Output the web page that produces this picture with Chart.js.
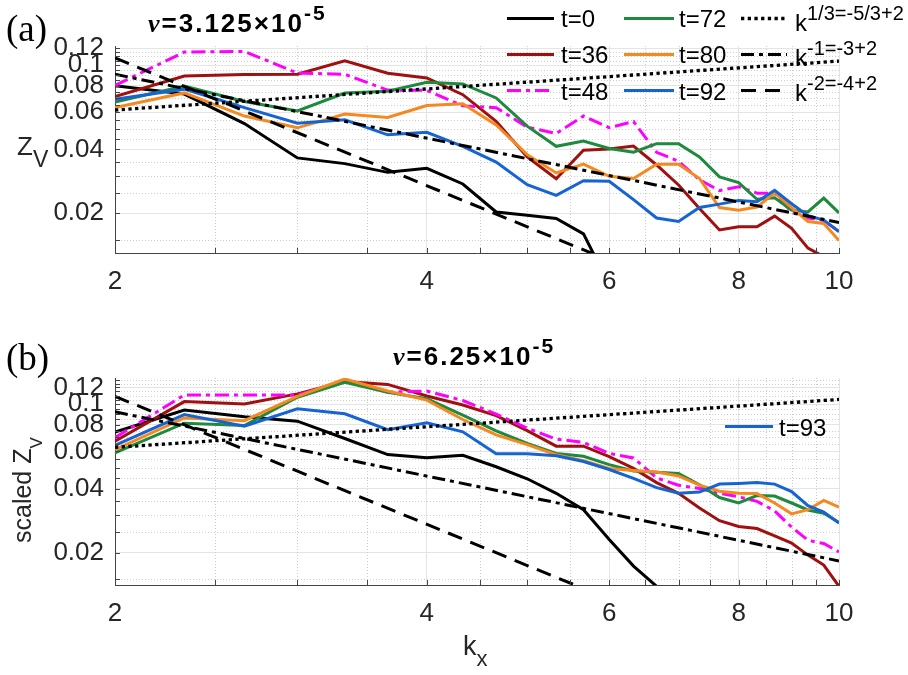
<!DOCTYPE html>
<html>
<head>
<meta charset="utf-8">
<script src="https://cdn.jsdelivr.net/npm/chart.js@4.4.1/dist/chart.umd.min.js"></script>
<style>
  body { margin: 0; background: #fff; }
  #wrap { position: relative; width: 908px; height: 675px; overflow: hidden; font-family: 'Liberation Sans', Arial, sans-serif; color: #262626; }
  #wrap canvas { position: absolute; left: 0; }
  .t { position: absolute; white-space: nowrap; line-height: 1; }
  .panel { font-family: 'Liberation Serif', 'Times New Roman', serif; font-size: 37px; color: #000; }
  .title { font-size: 26px; font-weight: bold; color: #000; letter-spacing: 2px; }
  .title .nu { font-family: 'Liberation Serif', serif; font-style: italic; }
  .title .sup { font-size: 21px; position: relative; top: -12px; }
  .leg { font-size: 24px; color: #000; }
  .leg .sup { font-size: 20px; position: relative; top: -11px; }
  .swatch { position: absolute; }
  .lab { font-size: 26px; }
</style>
</head>
<body>
<div id="wrap">
  <canvas id="chartA" width="908" height="330" style="top:0"></canvas>
  <canvas id="chartB" width="908" height="345" style="top:330px"></canvas>

  <!-- panel tags and titles -->
  <div class="t panel" style="left:6px; top:10px">(a)</div>
  <div class="t panel" style="left:6px; top:339px">(b)</div>
  <div class="t title" style="left:148px; top:9.5px"><span class="nu">ν</span>=3.125×10<span class="sup">-5</span></div>
  <div class="t title" style="left:393px; top:343px"><span class="nu">ν</span>=6.25×10<span class="sup">-5</span></div>

  <!-- axis labels -->
  <div class="t lab" style="left:17px; top:133px">Z<span style="font-size:23px; position:relative; top:12px">V</span></div>
  <div class="t lab" style="left:10px; top:543px; font-size:25px; transform:rotate(-90deg); transform-origin:left top">scaled Z<span style="font-size:17px; position:relative; top:11px">V</span></div>
  <div class="t lab" style="left:463px; top:633px; font-size:27px">k<span style="font-size:22px; position:relative; top:11px">x</span></div>

  <!-- legend, panel (a) -->
  <svg class="swatch" style="left:507px; top:15px" width="47" height="7"><line x1="0" y1="3.5" x2="47" y2="3.5" stroke="#000000" stroke-width="3"/></svg>
  <div class="t leg" style="left:561px; top:7px">t=0</div>
  <svg class="swatch" style="left:507px; top:51px" width="47" height="7"><line x1="0" y1="3.5" x2="47" y2="3.5" stroke="#a0100f" stroke-width="3"/></svg>
  <div class="t leg" style="left:561px; top:43px">t=36</div>
  <svg class="swatch" style="left:507px; top:87px" width="47" height="7"><line x1="0" y1="3.5" x2="47" y2="3.5" stroke="#ff00ff" stroke-width="3" stroke-dasharray="14 5 4 5"/></svg>
  <div class="t leg" style="left:561px; top:80px">t=48</div>

  <svg class="swatch" style="left:624px; top:15px" width="50" height="7"><line x1="0" y1="3.5" x2="50" y2="3.5" stroke="#1e8a3e" stroke-width="3"/></svg>
  <div class="t leg" style="left:679px; top:7px">t=72</div>
  <svg class="swatch" style="left:624px; top:51px" width="50" height="7"><line x1="0" y1="3.5" x2="50" y2="3.5" stroke="#f5891f" stroke-width="3"/></svg>
  <div class="t leg" style="left:679px; top:43px">t=80</div>
  <svg class="swatch" style="left:624px; top:87px" width="50" height="7"><line x1="0" y1="3.5" x2="50" y2="3.5" stroke="#1664d4" stroke-width="3"/></svg>
  <div class="t leg" style="left:679px; top:80px">t=92</div>

  <svg class="swatch" style="left:741px; top:15px" width="46" height="7"><line x1="0" y1="3.5" x2="46" y2="3.5" stroke="#000" stroke-width="3.3" stroke-dasharray="3.3 3.4"/></svg>
  <div class="t leg" style="left:795px; top:11px">k<span class="sup">1/3=-5/3+2</span></div>
  <svg class="swatch" style="left:741px; top:51px" width="46" height="7"><line x1="0" y1="3.5" x2="46" y2="3.5" stroke="#000" stroke-width="3" stroke-dasharray="13 5 4 5"/></svg>
  <div class="t leg" style="left:795px; top:46px">k<span class="sup">-1=-3+2</span></div>
  <svg class="swatch" style="left:741px; top:87px" width="46" height="7"><line x1="0" y1="3.5" x2="46" y2="3.5" stroke="#000" stroke-width="3" stroke-dasharray="15 9"/></svg>
  <div class="t leg" style="left:795px; top:81px">k<span class="sup">-2=-4+2</span></div>

  <!-- legend, panel (b) -->
  <svg class="swatch" style="left:725px; top:423px" width="48" height="7"><line x1="0" y1="3.5" x2="48" y2="3.5" stroke="#1664d4" stroke-width="3"/></svg>
  <div class="t leg" style="left:779px; top:416px">t=93</div>
</div>

<script>
// wavenumbers shared by every spectrum
const kx = [2, 2.3333, 2.6667, 3, 3.3333, 3.6667, 4, 4.3333, 4.6667, 5, 5.3333, 5.6667, 6,
            6.3333, 6.6667, 7, 7.3333, 7.6667, 8, 8.3333, 8.6667, 9, 9.3333, 9.6667, 10];

// (a) nu = 3.125e-5
const a_t0  = [0.080, 0.073, 0.053, 0.0365, 0.0343, 0.0312, 0.0326, 0.0275, 0.0203, 0.0196, 0.0189, 0.0160, 0.0092,
               null, null, null, null, null, null, null, null, null, null, null, null];
const a_t36 = [0.071, 0.0887, 0.0903, 0.0906, 0.1047, 0.0916, 0.087, 0.0725, 0.0543, 0.0369, 0.0291, 0.0397, 0.0402,
               0.0415, 0.0338, 0.0272, 0.0211, 0.0167, 0.0173, 0.0173, 0.0194, 0.0170, 0.0137, 0.0125, null];
const a_t48 = [0.0802, 0.1152, 0.116, 0.0917, 0.0905, 0.0762, 0.076, 0.0642, 0.063, 0.051, 0.0476, 0.0575, 0.0507,
               0.0542, 0.0388, 0.0352, 0.0288, 0.0256, 0.0267, 0.0249, 0.0248, 0.0203, 0.019, 0.0185, 0.0164];
const a_t72 = [0.067, 0.0797, 0.0674, 0.0608, 0.0738, 0.0752, 0.083, 0.0815, 0.070, 0.0515, 0.0414, 0.0438, 0.0404,
               0.0388, 0.0426, 0.0426, 0.0369, 0.0297, 0.0279, 0.0233, 0.0237, 0.0207, 0.0203, 0.0236, 0.0201];
const a_t80 = [0.063, 0.0739, 0.0575, 0.0506, 0.0588, 0.0566, 0.0645, 0.0657, 0.0522, 0.0378, 0.031, 0.0341, 0.0299,
               0.0292, 0.0341, 0.0341, 0.0292, 0.0213, 0.0207, 0.0214, 0.025, 0.0213, 0.0183, 0.0179, 0.0149];
const a_t92 = [0.069, 0.077, 0.063, 0.0532, 0.0552, 0.0469, 0.0482, 0.0414, 0.0349, 0.0273, 0.0243, 0.0285, 0.0283,
               0.0232, 0.019, 0.0183, 0.0213, 0.0221, 0.023, 0.0227, 0.0257, 0.0222, 0.0195, 0.0186, 0.0164];

// (b) nu = 6.25e-5, scaled
const b_t0  = [0.074, 0.094, 0.0874, 0.0833, 0.069, 0.058, 0.056, 0.0575, 0.0508, 0.0446, 0.0381, 0.0319, 0.0231,
               0.0173, 0.0139, 0.011, null, null, null, null, null, null, null, null, null];
const b_t36 = [0.067, 0.103, 0.1003, 0.112, 0.128, 0.1241, 0.1095, 0.0992, 0.0885, 0.0752, 0.0635, 0.0635, 0.0567,
               0.0499, 0.0428, 0.0381, 0.0325, 0.0283, 0.0266, 0.026, 0.024, 0.0222, 0.0195, 0.0175, 0.0139];
const b_t48 = [0.0697, 0.1106, 0.1106, 0.1106, 0.1288, 0.1141, 0.1155, 0.1042, 0.09, 0.0772, 0.0686, 0.0661, 0.0587,
               0.0559, 0.045, 0.0416, 0.0401, 0.0381, 0.0367, 0.0349, 0.0315, 0.0264, 0.0229, 0.0221, 0.0202];
const b_t72 = [0.059, 0.0815, 0.0794, 0.108, 0.127, 0.1138, 0.1063, 0.089, 0.075, 0.0654, 0.0587, 0.0569, 0.052,
               0.0485, 0.0479, 0.0472, 0.0418, 0.0364, 0.0343, 0.0372, 0.037, 0.0343, 0.0318, 0.0307, 0.0278];
const b_t80 = [0.0612, 0.0863, 0.0837, 0.109, 0.1316, 0.1155, 0.1046, 0.0848, 0.0718, 0.0646, 0.0579, 0.0543, 0.0499,
               0.0488, 0.048, 0.046, 0.0416, 0.039, 0.0381, 0.038, 0.0343, 0.0305, 0.0319, 0.0353, 0.0328];
const b_t93 = [0.064, 0.0895, 0.0788, 0.0952, 0.0902, 0.0759, 0.0818, 0.0742, 0.0585, 0.0585, 0.0573, 0.0538, 0.0493,
               0.0448, 0.0405, 0.0381, 0.0386, 0.0421, 0.0424, 0.0428, 0.0421, 0.0388, 0.0333, 0.0311, 0.0276];

// power-law guides (straight on log-log, so two end points each)
const guideK      = [2, 10];
const guideSteepK = [2, 6];
const a_third = [0.0614, 0.1044];
const a_minus1 = [0.0905, 0.0181];
const a_minus2 = [0.108, 0.0120];
const b_third = [0.0627, 0.1054];
const b_minus1 = [0.0922, 0.0183];
const b_minus2 = [0.109, 0.0121];

// axes
const xTicksMajor = [2, 4, 6, 8, 10];
const xTicksAll = [2, 2.5, 3, 3.5, 4, 4.5, 5, 5.5, 6, 6.5, 7, 7.5, 8, 8.5, 9, 9.5, 10];
const yTicksMajor = [0.02, 0.04, 0.06, 0.08, 0.1, 0.12];
const yTicksMinor = [0.015, 0.025, 0.03, 0.035, 0.045, 0.05, 0.055, 0.065, 0.07, 0.075, 0.085, 0.09,
                     0.095, 0.105, 0.11, 0.115, 0.125, 0.13];

const FONT = "'Liberation Sans', Arial, sans-serif";

const colors = { t0: '#000000', t36: '#a0100f', t48: '#ff00ff', t72: '#1e8a3e', t80: '#f5891f', t92: '#1664d4' };

function curve(values, color, dash, order) {
  return {
    data: kx.map((k, i) => ({ x: k, y: values[i] })),
    borderColor: color, borderWidth: 3, borderDash: dash || [],
    pointRadius: 0, tension: 0, fill: false, order: order
  };
}

function guide(ks, values, dash, width, order) {
  return {
    data: ks.map((k, i) => ({ x: k, y: values[i] })),
    borderColor: '#000', borderWidth: width, borderDash: dash, borderCapStyle: 'butt',
    pointRadius: 0, tension: 0, fill: false, order: order
  };
}

// dotted minor grid and MATLAB-style inward tick marks
const minorGrid = {
  id: 'minorGrid',
  beforeDatasetsDraw(chart) {
    const { ctx, chartArea: a, scales: { x, y } } = chart;
    ctx.save();
    ctx.strokeStyle = '#cccccc';
    ctx.lineWidth = 1;
    ctx.setLineDash([1, 2]);
    yTicksMinor.forEach(v => {
      const py = Math.round(y.getPixelForValue(v)) + 0.5;
      if (py < a.top || py > a.bottom) return;
      ctx.beginPath(); ctx.moveTo(a.left, py); ctx.lineTo(a.right, py); ctx.stroke();
    });
    xTicksAll.filter(v => !xTicksMajor.includes(v)).forEach(v => {
      const px = Math.round(x.getPixelForValue(v)) + 0.5;
      ctx.beginPath(); ctx.moveTo(px, a.top); ctx.lineTo(px, a.bottom); ctx.stroke();
    });
    ctx.restore();
  },
  afterDatasetsDraw(chart) {
    const { ctx, chartArea: a, scales: { x, y } } = chart;
    ctx.save();
    ctx.strokeStyle = '#444';
    ctx.lineWidth = 1;
    yTicksMajor.concat(yTicksMinor).forEach(v => {
      const py = Math.round(y.getPixelForValue(v)) + 0.5;
      if (py < a.top || py > a.bottom) return;
      ctx.beginPath(); ctx.moveTo(a.left, py); ctx.lineTo(a.left + 5, py); ctx.stroke();
    });
    xTicksAll.forEach(v => {
      const px = Math.round(x.getPixelForValue(v)) + 0.5;
      ctx.beginPath(); ctx.moveTo(px, a.bottom); ctx.lineTo(px, a.bottom - 5); ctx.stroke();
    });
    ctx.restore();
  }
};

function drawPanel(id, datasets, yMin, yMax, padTop, xAxisHeight) {
  return new Chart(document.getElementById(id), {
    type: 'line',
    data: { datasets },
    options: {
      responsive: false,
      animation: false,
      devicePixelRatio: 1,
      layout: { padding: { left: 0, right: 69, top: padTop, bottom: 0 } },
      plugins: { legend: { display: false }, tooltip: { enabled: false } },
      scales: {
        x: {
          type: 'logarithmic', min: 2, max: 10,
          afterBuildTicks: s => { s.ticks = xTicksAll.map(v => ({ value: v })); },
          afterFit: s => { s.height = xAxisHeight; },
          ticks: {
            autoSkip: false, maxRotation: 0, padding: 13, color: '#262626',
            font: { family: FONT, size: 26 },
            callback: v => xTicksMajor.includes(v) ? String(v) : ''
          },
          grid: {
            drawTicks: false,
            color: c => (c.tick && xTicksMajor.includes(c.tick.value)) ? '#e4e4e4' : 'rgba(0,0,0,0)'
          },
          border: { color: '#444', width: 1 }
        },
        y: {
          type: 'logarithmic', min: yMin, max: yMax,
          afterBuildTicks: s => { s.ticks = yTicksMajor.map(v => ({ value: v })); },
          afterFit: s => { s.width = 115; },
          ticks: {
            autoSkip: false, padding: 11, color: '#262626',
            font: { family: FONT, size: 26 },
            callback: v => String(v)
          },
          grid: { drawTicks: false, color: '#e4e4e4' },
          border: { color: '#444', width: 1 }
        }
      }
    },
    plugins: [minorGrid]
  });
}

drawPanel('chartA', [
  guide(guideK, a_third, [3.3, 3.4], 3.3, 1),
  guide(guideK, a_minus1, [13, 5, 4, 5], 3, 1),
  guide(guideSteepK, a_minus2, [15, 9], 3, 1),
  curve(a_t92, colors.t92, null, 2),
  curve(a_t80, colors.t80, null, 3),
  curve(a_t72, colors.t72, null, 4),
  curve(a_t48, colors.t48, [14, 5, 4, 5], 5),
  curve(a_t36, colors.t36, null, 6),
  curve(a_t0, colors.t0, null, 7)
], 0.013, 0.123, 46, 77);

drawPanel('chartB', [
  guide(guideK, b_third, [3.3, 3.4], 3.3, 1),
  guide(guideK, b_minus1, [13, 5, 4, 5], 3, 1),
  guide(guideSteepK, b_minus2, [15, 9], 3, 1),
  curve(b_t93, colors.t92, null, 2),
  curve(b_t80, colors.t80, null, 3),
  curve(b_t72, colors.t72, null, 4),
  curve(b_t48, colors.t48, [14, 5, 4, 5], 5),
  curve(b_t36, colors.t36, null, 6),
  curve(b_t0, colors.t0, null, 7)
], 0.0141, 0.133, 48, 90);
</script>
</body>
</html>
